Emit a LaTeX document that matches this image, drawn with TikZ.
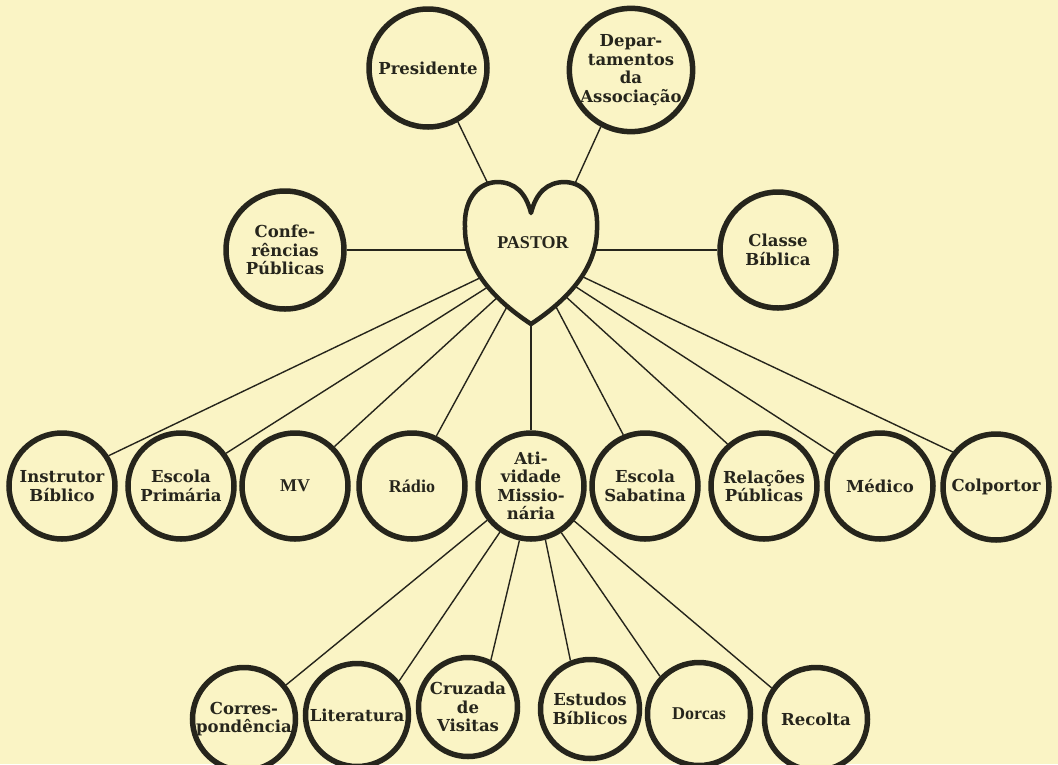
\documentclass[tikz,border=0pt]{standalone}
\usepackage{fontspec}
\newfontfamily\widef{DejaVu Serif}
\newfontfamily\timesf{Liberation Serif}
\definecolor{paper}{HTML}{FAF4C5}
\definecolor{ink}{HTML}{26251C}
\begin{document}
\begin{tikzpicture}[x=1pt,y=-1pt,
  ring/.style={circle,draw=ink,fill=paper,line width=5.5pt,inner sep=0pt,align=center,text=ink,
    font=\widef\bfseries\fontsize{16.5}{18.5}\selectfont},
  ringT/.style={ring,font=\timesf\bfseries\fontsize{18}{19}\selectfont},
  midring/.style={ring,minimum size=106pt},
  lowring/.style={ring,minimum size=103pt},
  link/.style={draw=ink,line width=1.4pt}]
\fill[paper] (0,0) rectangle (1058,764);
\useasboundingbox (0,0) rectangle (1058,764);
% top
\node[ring,minimum size=118pt] (pres) at (428,68) {Presidente};
\node[ring,minimum size=114pt] (dept) at (631,70) {Depar-\\tamentos\\da\\Associação};
\node[ring,minimum size=118pt] (conf) at (285,250) {Confe-\\rências\\Públicas};
\node[ring,minimum size=116pt] (classe) at (778,250) {Classe\\Bíblica};
% middle row
\node[midring] (instr) at (62,486) {Instrutor\\Bíblico};
\node[midring] (escp) at (181,486) {Escola\\Primária};
\node[midring,ringT] (mv) at (295,486) {MV};
\node[midring,ringT] (radio) at (412,486) {Rádio};
\node[midring] (ativ) at (531,486) {Ati-\\vidade\\Missio-\\nária};
\node[midring] (escs) at (645,486) {Escola\\Sabatina};
\node[midring] (rel) at (764,486) {Relações\\Públicas};
\node[midring] (med) at (880,486) {Médico};
\node[midring] (colp) at (996,487) {Colportor};
% bottom row
\node[lowring] (corr) at (244,719) {Corres-\\pondência};
\node[lowring] (lit) at (357,715) {Literatura};
\node[ring,minimum size=99pt] (cruz) at (468,707) {Cruzada\\de\\Visitas};
\node[ring,minimum size=99pt] (estud) at (590,709) {Estudos\\Bíblicos};
\node[lowring,ringT] (dorc) at (699,714) {Dorcas};
\node[lowring] (recol) at (816,719) {Recolta};
% heart contact points
\coordinate (hPres) at (491,190);
\coordinate (hDept) at (572,190);
\coordinate (hL) at (470,250);
\coordinate (hR) at (592,250);
\coordinate (hInstr) at (484,276);
\coordinate (hEscP) at (491,285);
\coordinate (hMV) at (500,295);
\coordinate (hRad) at (509,303);
\coordinate (hEscS) at (554,303);
\coordinate (hRel) at (564,295);
\coordinate (hMed) at (573,285);
\coordinate (hColp) at (581,276);
\coordinate (hTip) at (531,318);
% connectors
\draw[link] (pres.299) -- (hPres);
\draw[link] (dept.242) -- (hDept);
\draw[link] (conf.east) -- (hL);
\draw[link] (hR) -- (classe.west);
\draw[link] (hInstr) -- (instr.33);
\draw[link] (hEscP) -- (escp.36);
\draw[link] (hMV) -- (mv.45);
\draw[link] (hRad) -- (radio.64);
\draw[link] (hTip) -- (ativ.north);
\draw[link] (hEscS) -- (escs.113);
\draw[link] (hRel) -- (rel.131);
\draw[link] (hMed) -- (med.145);
\draw[link] (hColp) -- (colp.141);
\draw[link] (ativ.218) -- (corr.39);
\draw[link] (ativ.236) -- (lit.39);
\draw[link] (ativ.258) -- (cruz.64);
\draw[link] (ativ.285) -- (estud.112);
\draw[link] (ativ.303) -- (dorc.136);
\draw[link] (ativ.321) -- (recol.145);
% heart
\draw[draw=ink,fill=paper,line width=4.5pt,line join=round]
  (531,213) .. controls (536,193) and (547,182) .. (565,182)
  .. controls (587,183) and (598,203) .. (597,226)
  .. controls (598,265) and (572,297) .. (531,324)
  .. controls (490,297) and (464,265) .. (465,226)
  .. controls (464,203) and (475,183) .. (497,182)
  .. controls (515,182) and (526,193) .. (531,213) -- cycle;
\node[text=ink,font=\timesf\bfseries\fontsize{18}{19}\selectfont] (pastor) at (533,243) {PASTOR};
\end{tikzpicture}
\end{document}
